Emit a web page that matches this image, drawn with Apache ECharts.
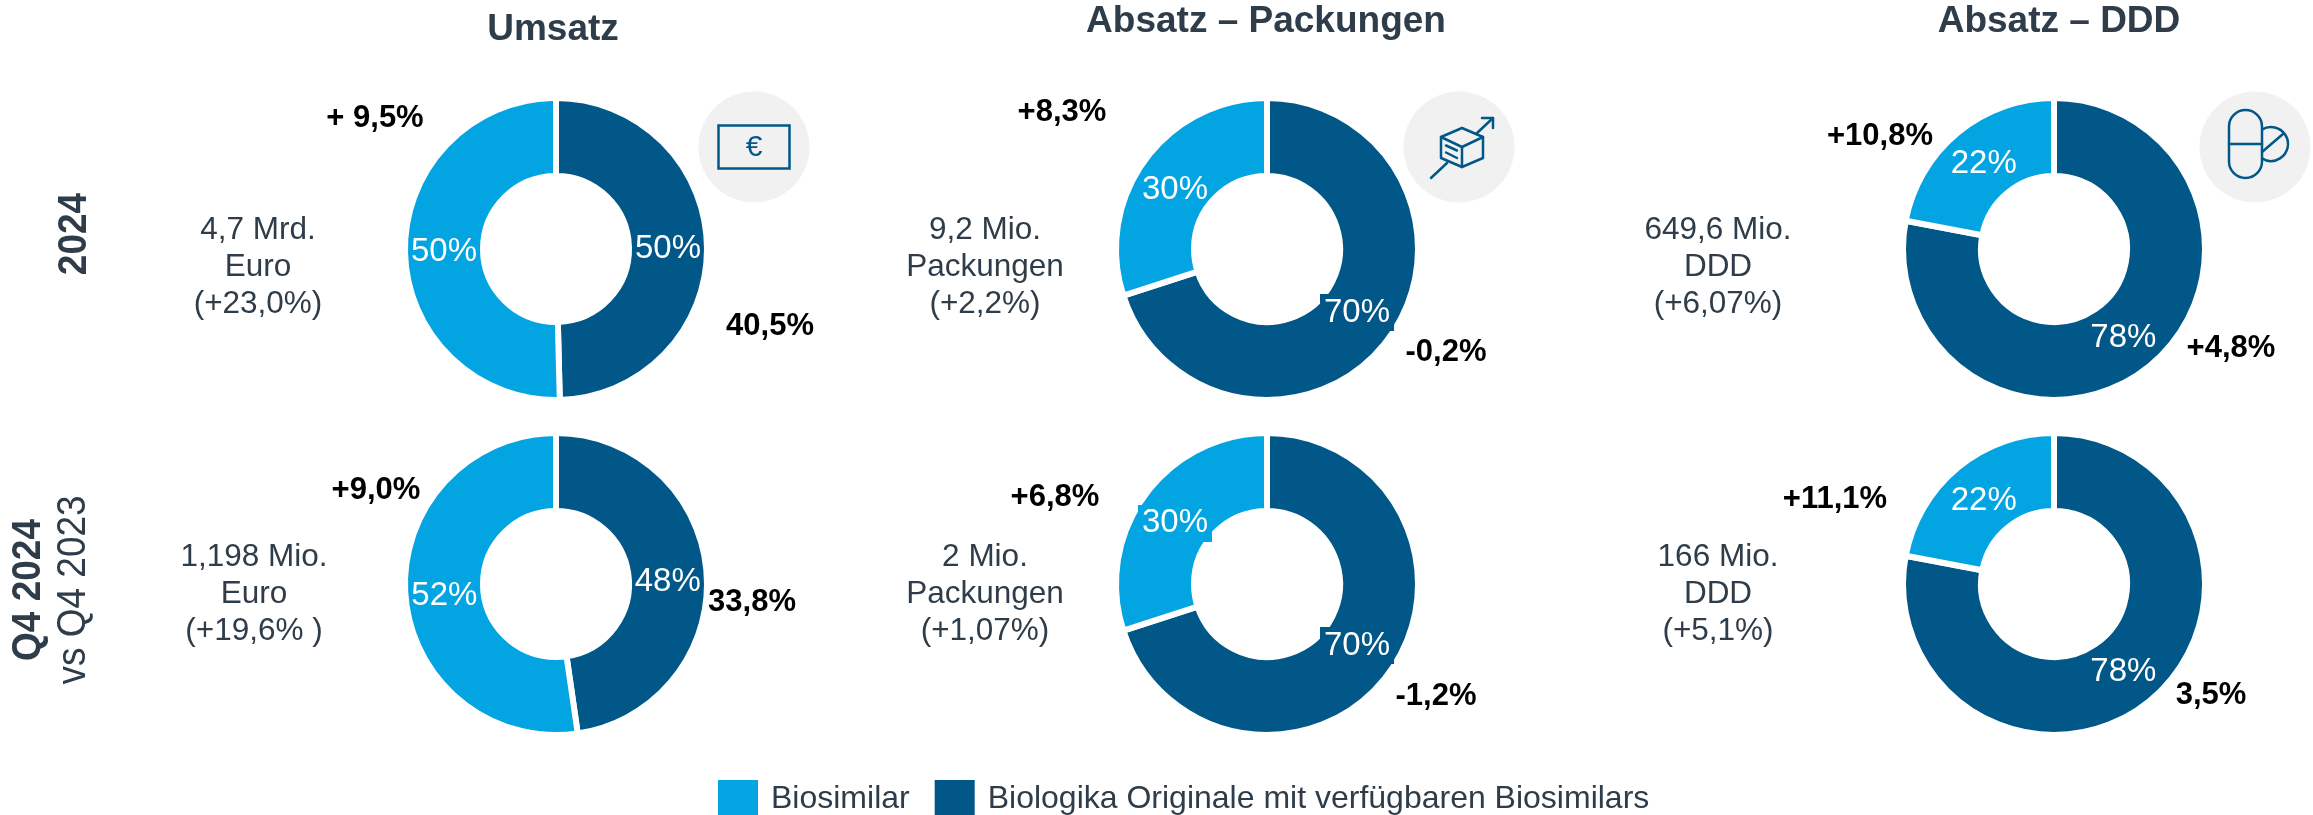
<!DOCTYPE html>
<html>
<head>
<meta charset="utf-8">
<style>
  html, body { margin: 0; padding: 0; background: #fff; }
  #chart { width: 2313px; height: 815px; }
</style>
<script src="https://cdn.jsdelivr.net/npm/echarts@6/dist/echarts.min.js"></script>
</head>
<body>
<div id="chart"></div>
<script>
// order of the donuts: row 2024 (Umsatz, Packungen, DDD), then row Q4 2024
const categories = ['Biosimilar', 'Biologika Originale mit verfügbaren Biosimilars']
const headings = ['Umsatz', 'Absatz – Packungen', 'Absatz – DDD']
const originalShare = [49.6, 70, 78, 47.7, 70, 78]
const biosimilarShare = [50.4, 30, 22, 52.3, 30, 22]
const originalLabels = ['50%', '70%', '78%', '48%', '70%', '78%']
const biosimilarLabels = ['50%', '30%', '22%', '52%', '30%', '22%']
const biosimilarGrowth = ['+ 9,5%', '+8,3%', '+10,8%', '+9,0%', '+6,8%', '+11,1%']
const originalGrowth = ['40,5%', '-0,2%', '+4,8%', '33,8%', '-1,2%', '3,5%']
const totals = [
  '4,7 Mrd.\nEuro\n(+23,0%)', '9,2 Mio.\nPackungen\n(+2,2%)', '649,6 Mio.\nDDD\n(+6,07%)',
  '1,198 Mio.\nEuro\n(+19,6% )', '2 Mio.\nPackungen\n(+1,07%)', '166 Mio.\nDDD\n(+5,1%)'
]

const DARK = '#005788'
const LIGHT = '#03A4E2'
const INK = '#2E3D49'

// layout in page pixels
const centers = [[556, 249], [1267, 249], [2054, 249], [556, 584], [1267, 584], [2054, 584]]
const headingPos = [[553, 30], [1266, 22], [2059, 22]]
const biosimilarGrowthPos = [[375, 118], [1062, 112], [1880, 136], [376, 490], [1055, 497], [1835, 499]]
const originalGrowthPos = [[770, 326], [1446, 352], [2231, 348], [752, 602], [1436, 696], [2211, 695]]
const totalsPos = [[258, 267], [985, 267], [1718, 267], [254, 594], [985, 594], [1718, 594]]
const darkPatch = [false, true, false, false, true, false]
const lightPatch = [false, false, false, false, true, false]
// small shifts of the slice labels, the source placed them by hand
const darkNudge = [[-3, 1], [-3, -4], [-4, 0], [-3, 6], [-3, -6], [-4, -1]]
const lightNudge = [[3, 1], [1, 9], [3, 4], [3, 4], [1, 7], [3, 6]]

function textEl(text, x, y, font, fill, extra) {
  return Object.assign({
    type: 'text', x, y, silent: true,
    style: { text, font, fill, align: 'center', verticalAlign: 'middle', lineHeight: 37 }
  }, extra)
}

function line(x1, y1, x2, y2) {
  return { type: 'line', shape: { x1, y1, x2, y2 }, style: { stroke: DARK, lineWidth: 2.5, lineCap: 'round' } }
}

function poly(points, closed) {
  return {
    type: closed ? 'polygon' : 'polyline', shape: { points },
    style: { stroke: DARK, lineWidth: 2.5, fill: 'none', lineJoin: 'round', lineCap: 'round' }
  }
}

function icon(cx, cy, children) {
  return {
    type: 'group', x: cx, y: cy, silent: true,
    children: [{ type: 'circle', shape: { r: 55.5 }, style: { fill: '#F1F1F1' } }].concat(children)
  }
}

const euroIcon = [
  { type: 'rect', shape: { x: -35.5, y: -21.5, width: 71, height: 43 }, style: { stroke: DARK, lineWidth: 2.5, fill: 'none' } },
  { type: 'text', style: { text: '€', x: 0, y: 1, font: '30px "Liberation Sans"', fill: DARK, align: 'center', verticalAlign: 'middle' } }
]

const boxIcon = [
  poly([[-18, -10], [3, -19], [24, -10], [3, 0]], true),
  poly([[-18, -10], [-18, 11], [3, 20], [3, 0]], false),
  poly([[3, 20], [24, 11], [24, -10]], false),
  line(-13, -1.5, -2, 3.5),
  line(-13, 5.5, -2, 11),
  line(-12, 16, -28, 31),
  line(17, -13, 34, -29),
  poly([[23, -29], [34, -29], [34, -19]], false)
]

const pillIcon = [
  { type: 'rect', shape: { x: -26, y: -37, width: 33, height: 68, r: 16.5 }, style: { stroke: DARK, lineWidth: 2.5, fill: 'none' } },
  line(-26, -3, 7, -3),
  { type: 'arc', shape: { cx: 16, cy: -3, r: 17, startAngle: -2.13, endAngle: 2.13 }, style: { stroke: DARK, lineWidth: 2.5, fill: 'none' } },
  line(7, 5, 28, -13)
]

const graphics = []
headings.forEach((h, i) => {
  graphics.push(textEl(h, headingPos[i][0], headingPos[i][1], 'bold 37px "Liberation Sans"', INK))
})
biosimilarGrowth.forEach((t, i) => {
  graphics.push(textEl(t, biosimilarGrowthPos[i][0], biosimilarGrowthPos[i][1], 'bold 31px "Liberation Sans"', '#000'))
})
originalGrowth.forEach((t, i) => {
  graphics.push(textEl(t, originalGrowthPos[i][0], originalGrowthPos[i][1], 'bold 31px "Liberation Sans"', '#000'))
})
totals.forEach((t, i) => {
  graphics.push(textEl(t, totalsPos[i][0], totalsPos[i][1], '31.5px "Liberation Sans"', INK))
})
const sideText = { rotation: Math.PI / 2, scaleY: 1.08 }
graphics.push(textEl('2024', 75, 234, 'bold 37px "Liberation Sans"', INK, sideText))
graphics.push(textEl('Q4 2024', 29, 590, 'bold 37px "Liberation Sans"', INK, sideText))
graphics.push(textEl('vs Q4 2023', 74, 590, '37px "Liberation Sans"', INK, sideText))
graphics.push(icon(754, 147, euroIcon), icon(1459, 147, boxIcon), icon(2255, 147, pillIcon))

function sliceLabel(text, color, patched) {
  return {
    formatter: text,
    backgroundColor: patched ? color : 'transparent',
    padding: patched ? [2, 4] : 0
  }
}

const series = centers.map((center, i) => ({
  type: 'pie',
  center,
  radius: [73, 151],
  startAngle: 90,
  silent: true,
  animation: false,
  itemStyle: { borderColor: '#fff', borderWidth: 6 },
  label: { show: true, position: 'inside', color: '#fff', fontFamily: 'Liberation Sans', fontSize: 33 },
  labelLine: { show: false },
  labelLayout(params) {
    const nudge = params.dataIndex === 0 ? darkNudge[i] : lightNudge[i]
    return { dx: nudge[0], dy: nudge[1] }
  },
  data: [
    { name: categories[1], value: originalShare[i], itemStyle: { color: DARK }, label: sliceLabel(originalLabels[i], DARK, darkPatch[i]) },
    { name: categories[0], value: biosimilarShare[i], itemStyle: { color: LIGHT }, label: sliceLabel(biosimilarLabels[i], LIGHT, lightPatch[i]) }
  ]
}))

const chart = echarts.init(document.getElementById('chart'))
chart.setOption({
  animation: false,
  backgroundColor: '#fff',
  legend: {
    data: categories,
    left: 713,
    top: 775,
    itemWidth: 40,
    itemHeight: 38,
    itemGap: 25,
    selectedMode: false,
    icon: 'rect',
    itemStyle: { borderWidth: 0 },
    textStyle: { fontFamily: 'Liberation Sans', fontSize: 32, color: INK, padding: [0, 0, 0, 8] }
  },
  series,
  graphic: graphics
})
window.addEventListener('resize', () => chart.resize())
</script>
</body>
</html>
